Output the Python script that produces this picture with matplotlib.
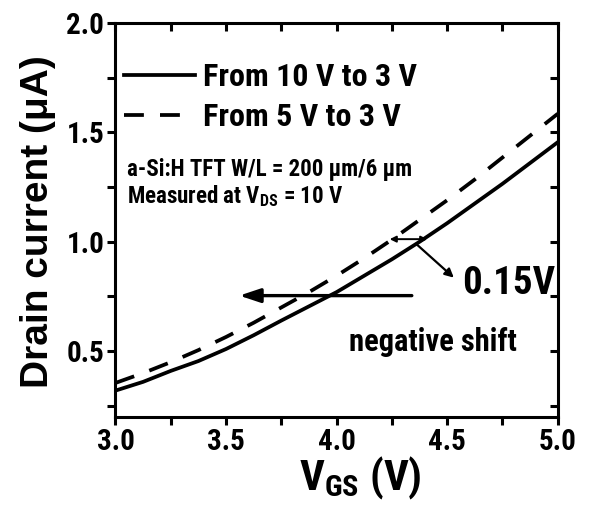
import matplotlib
matplotlib.use("Agg")
import matplotlib.pyplot as plt
from matplotlib import font_manager as fm
import numpy as np

vgs = [3.0, 3.125, 3.25, 3.375, 3.5, 3.625, 3.75, 3.875, 4.0,
       4.125, 4.25, 4.375, 4.5, 4.625, 4.75, 4.875, 5.0]
id_10to3 = [0.32, 0.36, 0.41, 0.455, 0.51, 0.573, 0.64, 0.705, 0.77,
            0.845, 0.92, 1.0, 1.085, 1.175, 1.265, 1.36, 1.455]
id_5to3 = [0.355, 0.40, 0.45, 0.505, 0.565, 0.63, 0.70, 0.77, 0.845,
           0.925, 1.01, 1.10, 1.19, 1.285, 1.385, 1.485, 1.585]
legend_labels = ["From 10 V to 3 V", "From 5 V to 3 V"]
xticks = [3.0, 3.5, 4.0, 4.5, 5.0]
yticks = [0.5, 1.0, 1.5, 2.0]


def find_condensed_bold():
    prefs = ['Liberation Sans Narrow', 'Arial Narrow', 'Roboto Condensed',
             'Open Sans Condensed', 'Noto Sans', 'DejaVu Sans', 'Open Sans', 'Roboto']
    found = []
    for f in fm.fontManager.ttflist:
        nm = f.fname.lower()
        cond = ('narrow' in nm or 'condensed' in nm or 'narrow' in f.name.lower()
                or 'condensed' in f.name.lower() or f.stretch in ('condensed', 'semi-condensed'))
        if not cond or 'extra' in nm or 'semi' in nm or 'ultra' in nm:
            continue
        w = f.weight if isinstance(f.weight, int) else {'bold': 700}.get(f.weight, 400)
        if w < 600 or w > 750 or f.style != 'normal':
            continue
        rank = len(prefs)
        for i, p in enumerate(prefs):
            if f.name.lower().startswith(p.lower()):
                rank = i
                break
        found.append((rank, f.fname))
    found.sort()
    return found[0][1] if found else None


cfile = find_condensed_bold()
if cfile:
    NP = lambda size: fm.FontProperties(fname=cfile, size=size)
    k = 1.0
else:
    NP = lambda size: fm.FontProperties(family='Liberation Sans', weight='bold', size=size)
    k = 0.85

plt.rcParams['mathtext.default'] = 'regular'
plt.rcParams['font.family'] = ['Liberation Sans', 'DejaVu Sans']

fig = plt.figure(figsize=(5.89, 5.09), dpi=100)
ax = fig.add_axes([0.196, 0.181, 0.751, 0.774])

ax.plot(vgs, id_10to3, color='black', lw=2.7, ls='-', label=legend_labels[0])
ax.plot(vgs, id_5to3, color='black', lw=2.7, ls=(0, (5.3, 4.3)), label=legend_labels[1])

ax.set_xlim(3.0, 5.0)
ax.set_ylim(0.2, 2.0)
ax.set_xticks(xticks)
ax.set_yticks(yticks)
ax.set_xticklabels([f"{v:.1f}" for v in xticks])
ax.set_yticklabels([f"{v:.1f}" for v in yticks])
ax.set_xticks(np.arange(3.25, 5.0, 0.5), minor=True)
ax.set_yticks(np.arange(0.25, 2.0, 0.5), minor=True)

for s in ax.spines.values():
    s.set_linewidth(2.2)
ax.tick_params(which='both', direction='out', length=6, width=2.2,
               pad=2, top=False, right=False)
for lab in ax.get_xticklabels() + ax.get_yticklabels():
    lab.set_fontproperties(NP(21 * k))

axt = ax.secondary_xaxis('top')
axt.set_xticks(xticks)
axt.set_xticks(np.arange(3.25, 5.0, 0.5), minor=True)
axt.tick_params(which='both', direction='in', length=6, width=2.2, labeltop=False)
axr = ax.secondary_yaxis('right')
axr.set_yticks(yticks)
axr.set_yticks(np.arange(0.25, 2.0, 0.5), minor=True)
axr.tick_params(which='both', direction='in', length=6, width=2.2, labelright=False)

ax.set_ylabel("Drain current (μA)", family=['Liberation Sans', 'DejaVu Sans'],
              fontsize=28, fontweight='bold')
ax.yaxis.set_label_coords(-0.135, 0.495)
ax.set_xlabel("V$_{GS}$ (V)", fontproperties=NP(31 * k))
ax.xaxis.set_label_coords(0.553, -0.095)
ax.xaxis.label.set_va('top')

leg = ax.legend(loc='upper left', bbox_to_anchor=(0.02, 0.90), frameon=False,
                prop=NP(23 * k), handlelength=2.22, handletextpad=0.25,
                borderaxespad=0.0, borderpad=0.0, labelspacing=0.31)

ax.text(3.05, 1.33, "a-Si:H TFT W/L = 200 μm/6 μm", fontproperties=NP(16.5 * k), va='center')
ax.text(3.05, 1.21, "Measured at V$_{DS}$ = 10 V", fontproperties=NP(16.5 * k), va='center')

ax.annotate("", xy=(3.56, 0.754), xytext=(4.34, 0.754),
            arrowprops=dict(arrowstyle='-|>,head_length=0.9,head_width=0.3',
                            color='black', lw=2.4, mutation_scale=14, shrinkA=0, shrinkB=0))
ax.text(4.436, 0.50, "negative shift", fontproperties=NP(22 * k), ha='center', va='baseline')
ax.annotate("", xy=(4.53, 0.836), xytext=(4.36, 0.99),
            arrowprops=dict(arrowstyle='-|>', color='black', lw=1.6, mutation_scale=13,
                            shrinkA=0, shrinkB=0))
ax.annotate("", xy=(4.24, 1.012), xytext=(4.41, 1.012),
            arrowprops=dict(arrowstyle='<|-|>', color='black', lw=1.4, mutation_scale=9,
                            shrinkA=0, shrinkB=0))
ax.text(4.567, 0.76, "0.15V", fontproperties=NP(28 * k), ha='left', va='baseline')

fig.savefig("out.png", dpi=100)
